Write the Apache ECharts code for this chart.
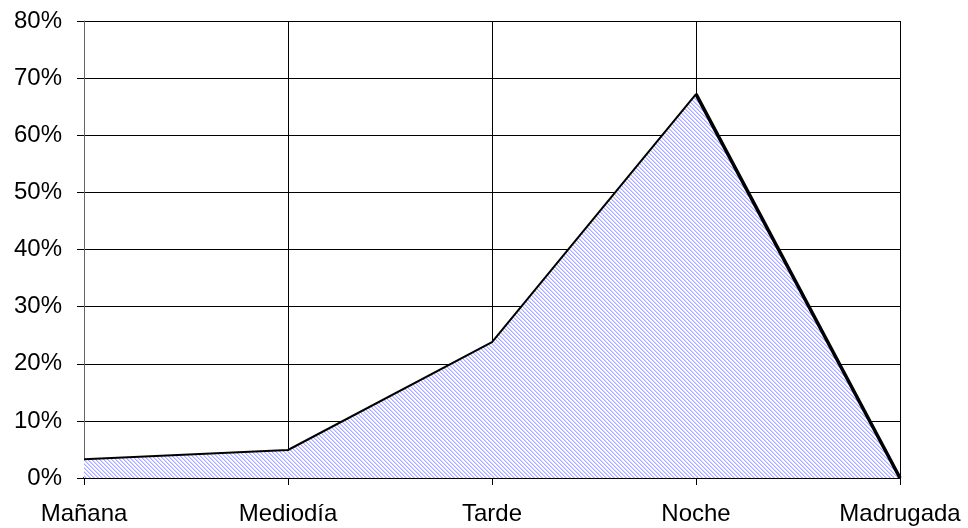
<!DOCTYPE html>
<html><head><meta charset="utf-8">
<script src="https://cdn.jsdelivr.net/npm/echarts@6/dist/echarts.min.js"></script>
<style>html,body{margin:0;padding:0;background:#fff}#c{width:968px;height:528px}</style>
</head><body><div id="c"></div>
<script>
const categories = ['Mañana', 'Mediodía', 'Tarde', 'Noche', 'Madrugada'];
const values = [3.3, 4.9, 23.8, 67.2, 0];
const yTicks = { min: 0, max: 80, interval: 10 };

// hatch pattern (diagonal "\" lines)
const pc = document.createElement('canvas');
pc.width = 4; pc.height = 4;
const ctx = pc.getContext('2d');
const img = ctx.createImageData(4, 4);
for (let y = 0; y < 4; y++) for (let x = 0; x < 4; x++) {
  const d = ((x - y) % 4 + 4) % 4;
  let c = [255, 255, 255];
  if (d === 0) c = [170, 172, 250];
  else if (d === 1) c = [212, 214, 252];
  const i = (y * 4 + x) * 4;
  img.data[i] = c[0]; img.data[i + 1] = c[1]; img.data[i + 2] = c[2]; img.data[i + 3] = 255;
}
ctx.putImageData(img, 0, 0);

const thick = values.map((v, i) => (i >= 3 ? v : null));

const chart = echarts.init(document.getElementById('c'), null, { renderer: 'canvas' });
chart.setOption({
  animation: false,
  grid: { left: 84, right: 68, top: 21, bottom: 50, containLabel: false },
  xAxis: {
    type: 'category', data: categories, boundaryGap: false,
    axisLine: { lineStyle: { color: '#000', width: 2 } },
    axisTick: { show: true, alignWithLabel: true, length: 7, lineStyle: { color: '#000' } },
    axisLabel: { color: '#000', fontFamily: 'Liberation Sans, Arial', fontSize: 24, margin: 24 },
    splitLine: { show: true, lineStyle: { color: '#000', width: 1 } }
  },
  yAxis: {
    type: 'value', min: yTicks.min, max: yTicks.max, interval: yTicks.interval,
    axisLine: { show: true, lineStyle: { color: '#666', width: 1 } },
    axisTick: { show: true, length: 7, lineStyle: { color: '#000' } },
    axisLabel: { color: '#000', fontFamily: 'Liberation Sans, Arial', fontSize: 24, margin: 22, formatter: '{value}%' },
    splitLine: { show: true, lineStyle: { color: '#000', width: 1 } }
  },
  series: [
    {
      type: 'line', data: values, symbol: 'none', z: 3,
      lineStyle: { color: '#000', width: 2 },
      areaStyle: { color: { image: pc, repeat: 'repeat' }, opacity: 1 }
    },
    {
      type: 'line', data: thick, symbol: 'none', z: 4, connectNulls: false,
      lineStyle: { color: '#000', width: 3.5 }
    }
  ]
});
</script></body></html>
